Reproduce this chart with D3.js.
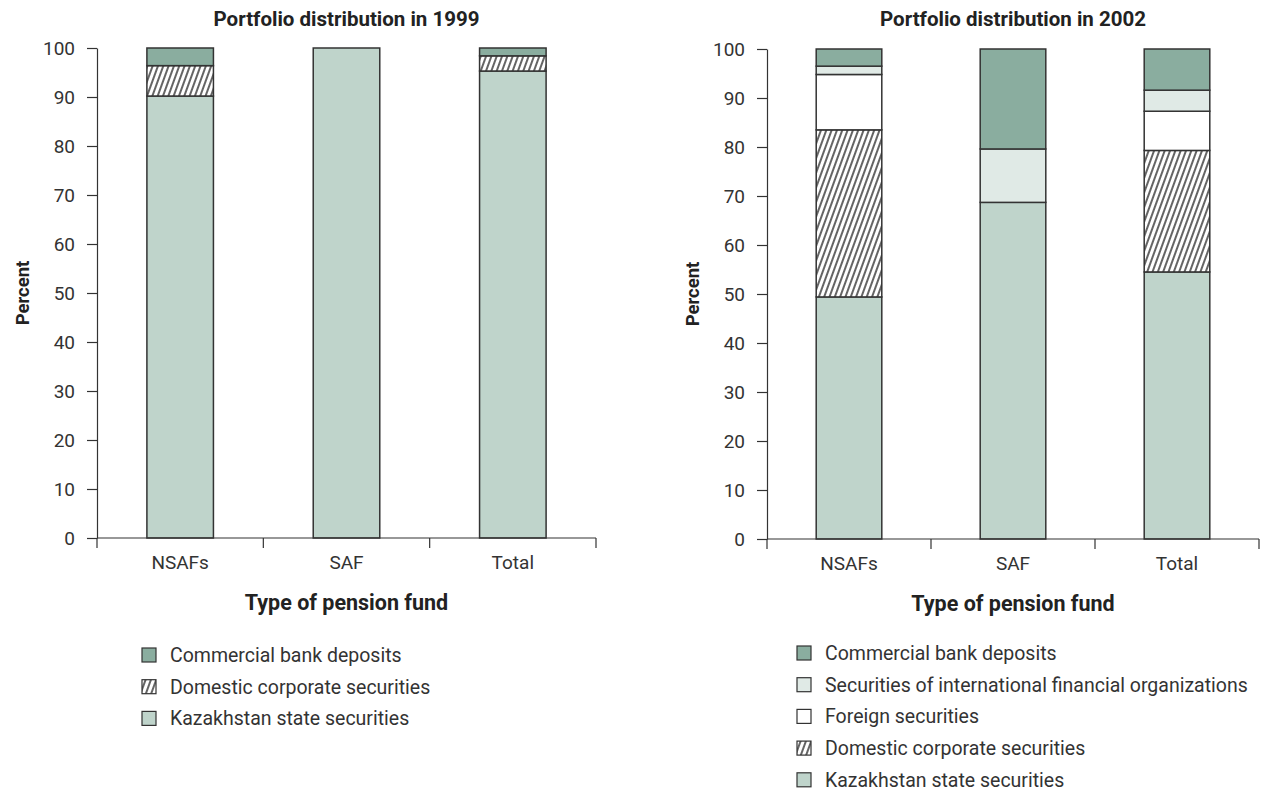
<!DOCTYPE html>
<meta charset="utf-8">
<style>
  body { margin: 0; background: #fff; }
  text { font-family: Roboto, "Liberation Sans", sans-serif; }
</style>
<svg id="mainsvg" width="1261" height="796"></svg>
<script src="https://d3js.org/d3.v7.min.js"></script>
<script>

// ---- data ----
const categories = ["NSAFs", "SAF", "Total"];
const yTicks = [0, 10, 20, 30, 40, 50, 60, 70, 80, 90, 100];

// 1999
const kazakh1999 = [90.2, 100, 95.3];
const domestic1999 = [6.2, 0, 3.1];
const commercial1999 = [3.6, 0, 1.6];

// 2002
const kazakh2002 = [49.4, 68.7, 54.5];
const domestic2002 = [34.1, 0, 24.8];
const foreign2002 = [11.3, 0, 8.0];
const intl2002 = [1.7, 10.9, 4.3];
const commercial2002 = [3.5, 20.4, 8.4];

const seriesStyle = {
  kazakh: { label: "Kazakhstan state securities", fill: "#bfd4cb" },
  domestic: { label: "Domestic corporate securities", fill: "url(#hatch)" },
  foreign: { label: "Foreign securities", fill: "#ffffff" },
  intl: { label: "Securities of international financial organizations", fill: "#e0eae6" },
  commercial: { label: "Commercial bank deposits", fill: "#8aad9f" }
};

const svg = d3.select("#mainsvg");

// hatch pattern
const defs = svg.append("defs");
const pat = defs.append("pattern")
  .attr("id", "hatch")
  .attr("patternUnits", "userSpaceOnUse")
  .attr("width", 5)
  .attr("height", 10)
  .attr("patternTransform", "rotate(20)");
pat.append("rect").attr("width", 5).attr("height", 10).attr("fill", "#fff");
pat.append("line").attr("x1", 1).attr("x2", 1).attr("y1", 0).attr("y2", 10)
  .attr("stroke", "#111").attr("stroke-width", 1.3);

function drawChart(opts) {
  const { title, x0, x1, y0, y1, keys, cols, legendX, legendY } = opts;

  const rows = categories.map((c, i) => {
    const r = { cat: c };
    keys.forEach((k, j) => r[k] = cols[j][i]);
    return r;
  });

  const x = d3.scaleBand().domain(categories).range([x0, x1])
    .paddingInner(0.6).paddingOuter(0.3);
  const y = d3.scaleLinear().domain([0, 100]).range([y1, y0]);

  const g = svg.append("g");

  // title
  g.append("text")
    .attr("x", (x0 + x1) / 2).attr("y", 26)
    .attr("text-anchor", "middle")
    .attr("font-weight", "bold").attr("font-size", 20.5).attr("fill", "#222")
    .text(title);

  // bars
  const stacked = d3.stack().keys(keys)(rows);
  g.append("g").selectAll("g")
    .data(stacked)
    .join("g")
      .attr("fill", d => seriesStyle[d.key].fill)
    .selectAll("rect")
    .data(d => d.filter(s => s[1] - s[0] > 0))
    .join("rect")
      .attr("x", d => x(d.data.cat))
      .attr("width", x.bandwidth())
      .attr("y", d => y(d[1]))
      .attr("height", d => y(d[0]) - y(d[1]))
      .attr("stroke", "#333")
      .attr("stroke-width", 1.5);

  // y axis
  const yAxis = g.append("g")
    .attr("transform", `translate(${x0},0)`)
    .call(d3.axisLeft(y).tickValues(yTicks).tickSize(10).tickSizeOuter(0).tickPadding(12));
  yAxis.selectAll("path, line").attr("stroke", "#333").attr("stroke-width", 1.2);
  yAxis.selectAll("text").attr("font-size", 19).attr("fill", "#333")
    .style("font-family", "Roboto, sans-serif");

  // x axis line and boundary ticks
  g.append("line")
    .attr("x1", x0).attr("x2", x1).attr("y1", y1).attr("y2", y1)
    .attr("stroke", "#333").attr("stroke-width", 1.2);
  g.append("g").selectAll("line")
    .data(d3.range(categories.length + 1))
    .join("line")
      .attr("x1", i => x0 + i * x.step())
      .attr("x2", i => x0 + i * x.step())
      .attr("y1", y1).attr("y2", y1 + 10)
      .attr("stroke", "#333").attr("stroke-width", 1.2);
  g.append("g").selectAll("text")
    .data(categories)
    .join("text")
      .attr("x", d => x(d) + x.bandwidth() / 2)
      .attr("y", y1 + 31)
      .attr("text-anchor", "middle")
      .attr("font-size", 19).attr("fill", "#333")
      .text(d => d);

  // axis titles
  g.append("text")
    .attr("x", (x0 + x1) / 2).attr("y", y1 + 72)
    .attr("text-anchor", "middle")
    .attr("font-weight", "bold").attr("font-size", 21.5).attr("fill", "#222")
    .text("Type of pension fund");
  g.append("text")
    .attr("transform", `translate(${x0 - 68},${(y0 + y1) / 2}) rotate(-90)`)
    .attr("text-anchor", "middle")
    .attr("font-weight", "bold").attr("font-size", 18.5).attr("fill", "#222")
    .text("Percent");

  // legend (top of stack first)
  const legendKeys = keys.slice().reverse();
  const lg = g.append("g").selectAll("g")
    .data(legendKeys)
    .join("g")
      .attr("transform", (d, i) => `translate(${legendX},${legendY + i * 31.7})`);
  lg.append("rect")
    .attr("x", 0).attr("y", -7).attr("width", 14).attr("height", 14)
    .attr("fill", d => seriesStyle[d].fill)
    .attr("stroke", "#333").attr("stroke-width", 1.2);
  lg.append("text")
    .attr("x", 28).attr("y", 7)
    .attr("font-size", 19.5).attr("fill", "#333")
    .text(d => seriesStyle[d].label);
}

drawChart({
  title: "Portfolio distribution in 1999",
  x0: 97, x1: 596, y0: 48, y1: 538,
  keys: ["kazakh", "domestic", "commercial"],
  cols: [kazakh1999, domestic1999, commercial1999],
  legendX: 142, legendY: 655
});

drawChart({
  title: "Portfolio distribution in 2002",
  x0: 767, x1: 1259, y0: 49, y1: 539,
  keys: ["kazakh", "domestic", "foreign", "intl", "commercial"],
  cols: [kazakh2002, domestic2002, foreign2002, intl2002, commercial2002],
  legendX: 797, legendY: 653
});

</script>
